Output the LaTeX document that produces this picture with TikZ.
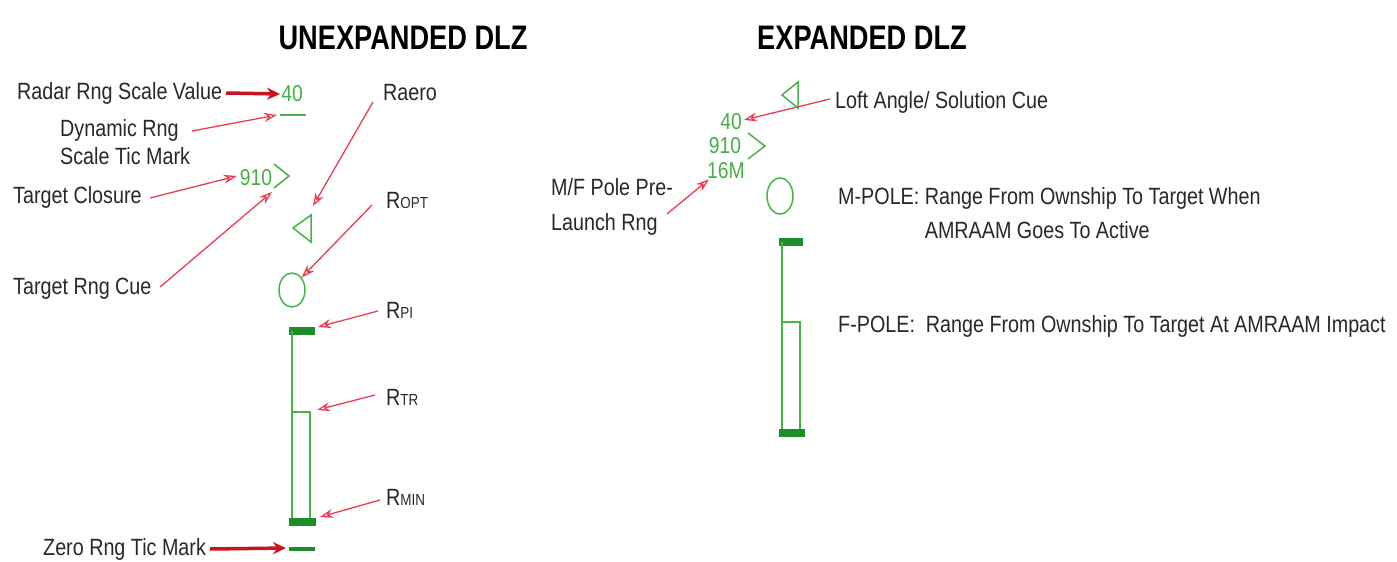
\documentclass[tikz,border=0pt]{standalone}
\usepackage{fontspec}
\setmainfont{Liberation Sans}[FakeStretch=0.84]
\newfontfamily\titlefont{Liberation Sans}[FakeStretch=0.8]
\usetikzlibrary{arrows.meta,shapes.geometric}
\definecolor{txt}{RGB}{40,40,40}
\definecolor{gtext}{RGB}{70,175,70}
\definecolor{gline}{RGB}{70,180,70}
\definecolor{gbar}{RGB}{30,140,40}
\definecolor{rthin}{RGB}{235,60,80}
\definecolor{rthick}{RGB}{200,20,30}
\newcommand\Rsub[1]{R{\fontsize{16}{16}\selectfont #1}}
\begin{document}
\begin{tikzpicture}[x=1pt,y=-1pt,
 lbl/.style={font=\fontsize{23.5}{28}\selectfont, text=txt, inner sep=0pt, anchor=west},
 gnum/.style={font=\fontsize{23}{24}\selectfont, text=gtext, inner sep=0pt},
 ttl/.style={font=\titlefont\bfseries\fontsize{34}{40}\selectfont, text=black, inner sep=0pt},
 thinarrow/.style={draw=rthin, line width=1.3pt, -{Stealth[length=13pt,width=9pt,open]}},
 thickarrow/.style={draw=rthick, line width=3.5pt, -{Stealth[length=13pt,width=12pt]}},
 gl/.style={draw=gline, line width=1.5pt},
 gb/.style={draw=gbar, line width=8pt}]
\fill[white] (0,0) rectangle (1397,562);
\useasboundingbox (0,0) rectangle (1397,562);

% titles
\node[ttl] (t1) at (403,38) {UNEXPANDED DLZ};
\node[ttl] (t2) at (862,38) {EXPANDED DLZ};

% ---------- left DLZ symbols ----------
\node[gnum] (g40) at (292,94) {40};
\draw[gl] (280,115) -- (306,115);
\coordinate (tic) at (277,115);
\node[gnum] (g910) at (256,178) {910};
\draw[gl] (274,164) -- (289,176) -- (274,188);
\draw[gl] (293,228) -- (311,215) -- (311,242) -- cycle;
\node[draw=gline, line width=1.5pt, ellipse, minimum width=26pt, minimum height=34pt, inner sep=0pt] (cir) at (292,290) {};
\draw[gb] (289,331) -- (315,331);
\draw[gl] (292,331) -- (292,522);
\draw[gl] (292,412) -- (310,412) -- (310,522);
\draw[gb] (289,522) -- (316,522);
\draw[draw=gbar, line width=4.5pt] (289,549) -- (315,549);

\coordinate (triL) at (313,206);
\coordinate (bar1) at (318,327);
\coordinate (box1) at (317,410);
\coordinate (bar2) at (320,517);
\coordinate (zero) at (286,548);
\coordinate (cue) at (272,192);

% ---------- left labels ----------
\node[lbl] (lRadar) at (17,93) {Radar Rng Scale Value};
\node[lbl, align=left] (lDyn) at (60,142) {Dynamic Rng\\Scale Tic Mark};
\node[lbl] (lClos) at (13,197) {Target Closure};
\node[lbl] (lCue) at (13,289) {Target Rng Cue};
\node[lbl] (lZero) at (43,549) {Zero Rng Tic Mark};
\node[lbl] (lAero) at (383,93) {Raero};
\node[lbl] (lOpt) at (386,200) {\Rsub{OPT}};
\node[lbl] (lPI) at (386,310) {\Rsub{PI}};
\node[lbl] (lTR) at (386,397) {\Rsub{TR}};
\node[lbl] (lMin) at (386,497) {\Rsub{MIN}};

\coordinate (sDyn) at (192,131);
\coordinate (sClos) at (150,198);
\coordinate (sCue) at (160,287);
\coordinate (sAero) at (373,102);
\coordinate (sOpt) at (372,205);
\coordinate (sPI) at (378,311);
\coordinate (sTR) at (375,395);
\coordinate (sMin) at (380,500);

\draw[thickarrow] ([xshift=4pt]lRadar.east) -- ([xshift=-1pt]g40.west);
\draw[thickarrow] ([xshift=4pt]lZero.east) -- (zero);
\draw[thinarrow] (sDyn) -- (tic);
\draw[thinarrow] (sClos) -- ([xshift=-3pt,yshift=2pt]g910.west);
\draw[thinarrow] (sCue) -- (cue);
\draw[thinarrow] (sAero) -- (triL);
\draw[thinarrow] (sOpt) -- (cir.north east);
\draw[thinarrow] (sPI) -- (bar1);
\draw[thinarrow] (sTR) -- (box1);
\draw[thinarrow] (sMin) -- (bar2);

% ---------- right DLZ symbols ----------
\draw[gl] (782,95) -- (798,82) -- (798,108) -- cycle;
\node[gnum] (r40) at (731,122) {40};
\node[gnum] (r910) at (725,146) {910};
\node[gnum] (r16) at (726,171) {16M};
\draw[gl] (748,133) -- (765,146) -- (748,159);
\node[draw=gline, line width=1.5pt, ellipse, minimum width=26pt, minimum height=36pt, inner sep=0pt] (rcir) at (780,196) {};
\draw[gb] (779,242) -- (803,242);
\draw[gl] (782,242) -- (782,433);
\draw[gl] (782,322) -- (800,322) -- (800,433);
\draw[gb] (779,433) -- (805,433);

% ---------- right labels ----------
\node[lbl] (lLoft) at (835,102) {Loft Angle/ Solution Cue};
\node[lbl, align=left, font=\fontsize{23.5}{35}\selectfont] (lMF) at (551,207) {M/F Pole Pre-\\Launch Rng};
\node[lbl, anchor=north west, font=\fontsize{23.5}{34}\selectfont] (lM) at (838,180) {%
  \begin{tabular}{@{}l@{ }l@{}}M-POLE: & Range From Ownship To Target When\\ & AMRAAM Goes To Active\end{tabular}};
\node[lbl] (lF) at (838,326) {F-POLE:\ \ Range From Ownship To Target At AMRAAM Impact};

\coordinate (sLoft) at (830,99);
\coordinate (sMF) at (667,214);
\draw[thinarrow] (sLoft) -- ([xshift=2pt,yshift=2pt]r40.east);
\draw[thinarrow] (sMF) -- ([xshift=2pt]r16.south west);
\end{tikzpicture}
\end{document}
